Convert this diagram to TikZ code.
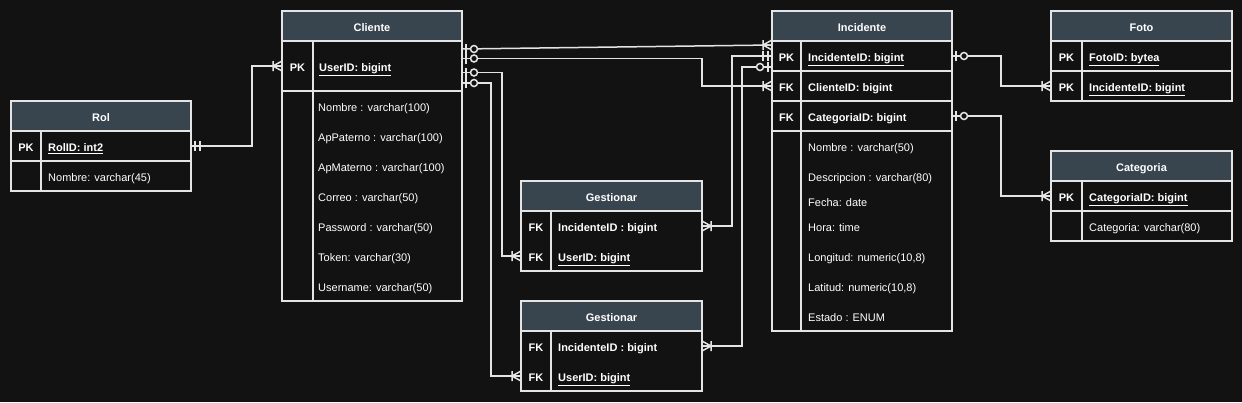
\documentclass[tikz,border=0pt]{standalone}
\usepackage{fontspec}
\setmainfont{Liberation Sans}
\usetikzlibrary{calc}
\definecolor{bgc}{RGB}{18,18,18}
\definecolor{hdrc}{RGB}{56,68,78}
\definecolor{linec}{RGB}{228,228,228}
\begin{document}
\begin{tikzpicture}[x=1pt,y=-1pt,line join=miter,
  box/.style={draw=linec,line width=1.5pt,fill=bgc,inner sep=0pt,outer sep=0pt,anchor=north west,text=white,text height=11pt,text depth=0pt,font=\fontsize{11}{13}\selectfont\bfseries},
  hdr/.style={box,fill=hdrc},
  txt/.style={anchor=base west,yshift=-5.5pt,inner sep=0pt,text=white,font=\fontsize{11}{13}\selectfont},
  ktxt/.style={txt,font=\fontsize{11}{13}\selectfont\bfseries},
  kc/.style={inner sep=0pt,text=white,text height=11pt,text depth=0pt,font=\fontsize{11}{13}\selectfont\bfseries},
  conn/.style={draw=linec,line width=1.5pt},
  pics/crow/.style={code={\draw[conn] (0,-5)--(9,0)--(0,5) (0,0)--(9,0) (9,-5)--(9,5);}},
  pics/mandone/.style={code={\draw[conn] (4,-5)--(4,5) (9,-5)--(9,5);}},
  pics/zeroone/.style={code={\draw[conn] (4,-5)--(4,5); \draw[conn,fill=bgc] (12,0) circle[radius=3.5pt];}}
]
\fill[bgc] (0,0) rectangle (1242,402);
\useasboundingbox (0,0) rectangle (1242,402);

% ---------- Rol ----------
\node[hdr,minimum width=180,minimum height=30] (rolH) at (11,101) {Rol};
\node[box,minimum width=30,minimum height=30] (rolK1) at (11,131) {PK};
\node[box,minimum width=150,minimum height=30] (rolF1) at (41,131) {};
\node[box,minimum width=30,minimum height=30] (rolK2) at (11,161) {};
\node[box,minimum width=150,minimum height=30] (rolF2) at (41,161) {};
\node[ktxt] (rolT1) at ($(rolF1.west)+(7,0)$) {\underline{RolID: int2}};
\node[txt] (rolT2) at ($(rolF2.west)+(7,0)$) {Nombre: varchar(45)};

% ---------- Cliente ----------
\node[hdr,minimum width=180,minimum height=30] (cliH) at (282,11) {Cliente};
\node[box,minimum width=31,minimum height=50] (cliK1) at (282,41) {PK};
\node[box,minimum width=149,minimum height=50] (cliF1) at (313,41) {};
\node[box,minimum width=31,minimum height=210] (cliK2) at (282,91) {};
\node[box,minimum width=149,minimum height=210] (cliF2) at (313,91) {};
\node[ktxt] (cliT0) at ($(cliF1.west)+(6,0)$) {\underline{UserID: bigint}};
\node[txt] (cliT1) at ($(cliF2.north west)+(5,15)$) {Nombre : varchar(100)};
\node[txt] (cliT2) at ($(cliF2.north west)+(5,45)$) {ApPaterno : varchar(100)};
\node[txt] (cliT3) at ($(cliF2.north west)+(5,75)$) {ApMaterno : varchar(100)};
\node[txt] (cliT4) at ($(cliF2.north west)+(5,105)$) {Correo : varchar(50)};
\node[txt] (cliT5) at ($(cliF2.north west)+(5,135)$) {Password : varchar(50)};
\node[txt] (cliT6) at ($(cliF2.north west)+(5,165)$) {Token: varchar(30)};
\node[txt] (cliT7) at ($(cliF2.north west)+(5,195)$) {Username: varchar(50)};

% ---------- Incidente ----------
\node[hdr,minimum width=180,minimum height=30] (incH) at (772,11) {Incidente};
\node[box,minimum width=29,minimum height=30] (incK1) at (772,41) {PK};
\node[box,minimum width=151,minimum height=30] (incF1) at (801,41) {};
\node[box,minimum width=29,minimum height=30] (incK2) at (772,71) {FK};
\node[box,minimum width=151,minimum height=30] (incF2) at (801,71) {};
\node[box,minimum width=29,minimum height=30] (incK3) at (772,101) {FK};
\node[box,minimum width=151,minimum height=30] (incF3) at (801,101) {};
\node[box,minimum width=29,minimum height=200] (incK4) at (772,131) {};
\node[box,minimum width=151,minimum height=200] (incF4) at (801,131) {};
\node[ktxt] (incT1) at ($(incF1.west)+(7,0)$) {\underline{IncidenteID: bigint}};
\node[ktxt] (incT2) at ($(incF2.west)+(7,0)$) {ClienteID: bigint};
\node[ktxt] (incT3) at ($(incF3.west)+(7,0)$) {CategoriaID: bigint};
\node[txt] (incA1) at ($(incF4.north west)+(7,15)$) {Nombre : varchar(50)};
\node[txt] (incA2) at ($(incF4.north west)+(7,45)$) {Descripcion : varchar(80)};
\node[txt] (incA3) at ($(incF4.north west)+(7,70)$) {Fecha: date};
\node[txt] (incA4) at ($(incF4.north west)+(7,95)$) {Hora: time};
\node[txt] (incA5) at ($(incF4.north west)+(7,125)$) {Longitud: numeric(10,8)};
\node[txt] (incA6) at ($(incF4.north west)+(7,155)$) {Latitud: numeric(10,8)};
\node[txt] (incA7) at ($(incF4.north west)+(7,185)$) {Estado : ENUM};

% ---------- Foto ----------
\node[hdr,minimum width=181,minimum height=30] (fotH) at (1051,11) {Foto};
\node[box,minimum width=31,minimum height=30] (fotK1) at (1051,41) {PK};
\node[box,minimum width=150,minimum height=30] (fotF1) at (1082,41) {};
\node[box,minimum width=31,minimum height=30] (fotK2) at (1051,71) {PK};
\node[box,minimum width=150,minimum height=30] (fotF2) at (1082,71) {};
\node[ktxt] (fotT1) at ($(fotF1.west)+(7,0)$) {\underline{FotoID: bytea}};
\node[ktxt] (fotT2) at ($(fotF2.west)+(7,0)$) {\underline{IncidenteID: bigint}};

% ---------- Categoria ----------
\node[hdr,minimum width=181,minimum height=30] (catH) at (1051,151) {Categoria};
\node[box,minimum width=31,minimum height=30] (catK1) at (1051,181) {PK};
\node[box,minimum width=150,minimum height=30] (catF1) at (1082,181) {};
\node[box,minimum width=31,minimum height=30] (catK2) at (1051,211) {};
\node[box,minimum width=150,minimum height=30] (catF2) at (1082,211) {};
\node[ktxt] (catT1) at ($(catF1.west)+(7,0)$) {\underline{CategoriaID: bigint}};
\node[txt] (catT2) at ($(catF2.west)+(7,0)$) {Categoria: varchar(80)};

% ---------- Gestionar 1 ----------
\node[hdr,minimum width=181,minimum height=30] (g1H) at (521,181) {Gestionar};
\node[box,minimum width=30,minimum height=60] (g1K) at (521,211) {};
\node[box,minimum width=151,minimum height=60] (g1F) at (551,211) {};
\node[kc] (g1K1) at ($(g1K.center)+(0,-15)$) {FK};
\node[kc] (g1K2) at ($(g1K.center)+(0,15)$) {FK};
\node[ktxt] (g1T1) at ($(g1F.west)+(7,-15)$) {IncidenteID : bigint};
\node[ktxt] (g1T2) at ($(g1F.west)+(7,15)$) {\underline{UserID: bigint}};

% ---------- Gestionar 2 ----------
\node[hdr,minimum width=181,minimum height=30] (g2H) at (521,301) {Gestionar};
\node[box,minimum width=30,minimum height=60] (g2K) at (521,331) {};
\node[box,minimum width=151,minimum height=60] (g2F) at (551,331) {};
\node[kc] (g2K1) at ($(g2K.center)+(0,-15)$) {FK};
\node[kc] (g2K2) at ($(g2K.center)+(0,15)$) {FK};
\node[ktxt] (g2T1) at ($(g2F.west)+(7,-15)$) {IncidenteID : bigint};
\node[ktxt] (g2T2) at ($(g2F.west)+(7,15)$) {\underline{UserID: bigint}};

% ---------- connector end points ----------
\coordinate (c0a) at (rolF1.east);
\coordinate (c0b) at (cliK1.west);
\coordinate (c1a) at ($(cliF1.east)+(0,-17)$);
\coordinate (c1b) at ($(incK1.west)+(0,-11)$);
\coordinate (c2a) at ($(cliF1.east)+(0,-7.5)$);
\coordinate (c2b) at (incK2.west);
\coordinate (c3a) at ($(cliF1.east)+(0,6.5)$);
\coordinate (c3b) at ($(g1K.west)+(0,15)$);
\coordinate (c4a) at ($(cliF1.east)+(0,17)$);
\coordinate (c4b) at ($(g2K.west)+(0,15)$);
\coordinate (c6a) at ($(g1F.east)+(0,-15)$);
\coordinate (c6b) at (incK1.west);
\coordinate (c7a) at ($(g2F.east)+(0,-15)$);
\coordinate (c7b) at ($(incK1.west)+(0,11)$);
\coordinate (c8a) at (incF1.east);
\coordinate (c8b) at (fotK2.west);
\coordinate (c9a) at (incF3.east);
\coordinate (c9b) at (catK1.west);

% ---------- connectors ----------
\draw[conn] (c0a) -- ++(61,0) |- (c0b);
\draw[conn] (c1a) -- (c1b);
\draw[conn] (c2a) -- ++(240,0) |- (c2b);
\draw[conn] (c3a) -- ++(40,0) |- (c3b);
\draw[conn] (c4a) -- ++(29,0) |- (c4b);
\draw[conn] (c6a) -- ++(30,0) |- (c6b);
\draw[conn] (c7a) -- ++(40,0) |- (c7b);
\draw[conn] (c8a) -- ++(49,0) |- (c8b);
\draw[conn] (c9a) -- ++(49,0) |- (c9b);

% ---------- end markers ----------
\pic at (c0a) {mandone};
\pic[rotate=180] at (c0b) {crow};
\pic at (c1a) {zeroone};
\pic[rotate=180] at (c1b) {crow};
\pic at (c2a) {zeroone};
\pic[rotate=180] at (c2b) {crow};
\pic at (c3a) {zeroone};
\pic[rotate=180] at (c3b) {crow};
\pic at (c4a) {zeroone};
\pic[rotate=180] at (c4b) {crow};
\pic at (c6a) {crow};
\pic[rotate=180] at (c6b) {mandone};
\pic at (c7a) {crow};
\pic[rotate=180] at (c7b) {zeroone};
\pic at (c8a) {zeroone};
\pic[rotate=180] at (c8b) {crow};
\pic at (c9a) {zeroone};
\pic[rotate=180] at (c9b) {crow};
\end{tikzpicture}
\end{document}
